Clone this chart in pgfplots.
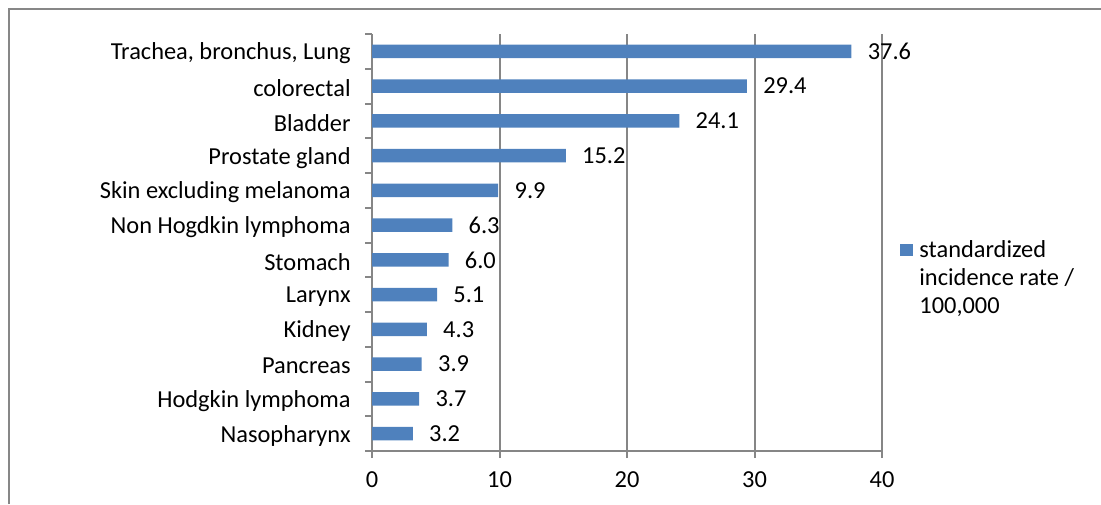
\documentclass[border=0pt]{standalone}
\usepackage{pgfplots}
\pgfplotsset{compat=1.18}
\usepackage{fontspec}
\setmainfont{Carlito}
\definecolor{barblue}{HTML}{4F81BD}
\definecolor{gridgray}{HTML}{868686}
\definecolor{framegray}{HTML}{878787}
\begin{document}
\fontsize{12.2pt}{14pt}\selectfont
\begin{tikzpicture}
\useasboundingbox (0,0) rectangle (550.5pt,252pt);
\draw[framegray, line width=1pt] (4.25pt,0) -- (4.25pt,247.5pt) -- (551pt,247.5pt);
\begin{axis}[
  at={(186pt,26.5pt)}, anchor=south west,
  scale only axis, width=255pt, height=208.5pt,
  xbar, bar width=6.75pt,
  xmin=0, xmax=40, ymin=-0.5, ymax=11.5,
  axis x line*=bottom, axis y line*=left,
  axis line style={gridgray, line width=1pt},
  xtick={0,10,20,30,40},
  xmajorgrids, grid style={gridgray, line width=1pt},
  tick align=outside,
  x tick style={gridgray, line width=1pt},
  major tick length=3.5pt,
  ytick={0,...,11},
  y tick style={draw=none},
  yticklabels={Nasopharynx, Hodgkin lymphoma, Pancreas, Kidney, Larynx, Stomach, Non Hogdkin lymphoma, Skin excluding melanoma, Prostate gland, Bladder, colorectal, {Trachea, bronchus, Lung}},
  extra y ticks={-0.5,0.5,1.5,2.5,3.5,4.5,5.5,6.5,7.5,8.5,9.5,10.5,11.5},
  extra y tick labels={},
  extra y tick style={y tick style={draw=gridgray, line width=1pt}, major tick length=3.5pt, grid=none},
  /pgf/number format/assume math mode=true,
  tick label style={font=\fontsize{12.2pt}{14pt}\selectfont, text=black},
  yticklabel style={inner sep=0pt, xshift=-7pt, yshift=-1pt},
  xticklabel style={inner sep=0pt, anchor=north, yshift=-6.5pt},
  point meta=x,
  nodes near coords={\pgfmathprintnumber[fixed,fixed zerofill,precision=1]{\pgfplotspointmeta}},
  every node near coord/.append style={anchor=west, inner sep=0pt, xshift=8pt, font=\fontsize{12.2pt}{14pt}\selectfont, text=black},
  legend style={at={(rel axis cs:1,0.512)}, anchor=north west, xshift=9pt, draw=none, fill=none, inner sep=0pt, column sep=3pt, nodes={inner sep=0pt, anchor=base west}, font=\fontsize{12.2pt}{14pt}\selectfont},
  legend cell align=left,
  legend image code/.code={\fill[barblue] (0pt,1pt) rectangle (6.5pt,7pt);},
  clip=false,
]
\addplot[fill=barblue, draw=none] coordinates {
  (3.2,0) (3.7,1) (3.9,2) (4.3,3) (5.1,4) (6.0,5) (6.3,6) (9.9,7) (15.2,8) (24.1,9) (29.4,10) (37.6,11)
};
\addlegendentry{\begin{tabular}[t]{@{}l@{}}standardized\\incidence rate /\\100,000\end{tabular}}
\end{axis}
\end{tikzpicture}
\end{document}
